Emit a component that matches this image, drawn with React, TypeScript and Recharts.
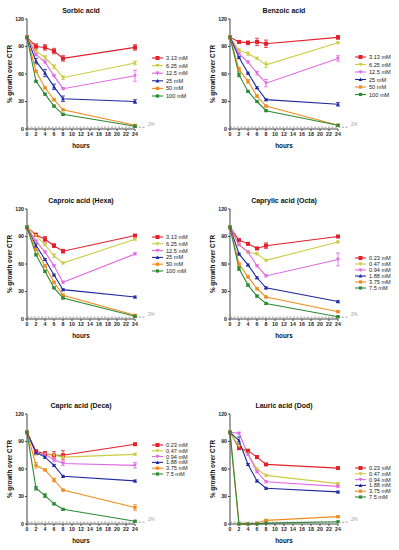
import { LineChart, Line, XAxis, YAxis, ErrorBar, ReferenceLine } from "recharts"

const hours = [0, 2, 4, 6, 8, 24]
const hourTicks = [0, 2, 4, 6, 8, 10, 12, 14, 16, 18, 20, 22, 24]
const pctTicks = [0, 30, 60, 90, 120]

const weakConc = ["3.13 mM", "6.25 mM", "12.5 mM", "25 mM", "50 mM", "100 mM"]
const fattyConc = ["0.23 mM", "0.47 mM", "0.94 mM", "1.88 mM", "3.75 mM", "7.5 mM"]

const sorbic = [
  [100, 90, 89, 85, 77, 89],
  [100, 85, 78, 68, 56, 72],
  [100, 81, 73, 58, 44, 58],
  [100, 74, 61, 46, 33, 30],
  [100, 63, 45, 32, 21, 4],
  [100, 52, 38, 25, 16, 3],
]
const sorbicErr = [
  [0, 3, 3, 3, 3, 3],
  [0, 1, 2, 2, 2, 2],
  [0, 1, 1, 1, 1, 6],
  [0, 3, 4, 3, 3, 2],
  [0, 1, 1, 1, 1, 1],
  [0, 1, 1, 1, 1, 1],
]

const benzoic = [
  [100, 95, 94, 95, 93, 100],
  [100, 86, 82, 77, 70, 94],
  [100, 82, 73, 61, 50, 77],
  [100, 78, 61, 45, 32, 27],
  [100, 65, 52, 36, 25, 4],
  [100, 59, 41, 30, 20, 4],
]
const benzoicErr = [
  [0, 1, 2, 4, 4, 2],
  [0, 1, 2, 1, 3, 1],
  [0, 1, 1, 2, 4, 3],
  [0, 1, 1, 1, 1, 2],
  [0, 2, 2, 1, 1, 1],
  [0, 2, 1, 1, 1, 1],
]

const caproic = [
  [100, 92, 87, 80, 74, 91],
  [100, 91, 81, 69, 61, 87],
  [100, 85, 73, 58, 40, 71],
  [100, 80, 65, 48, 32, 24],
  [100, 76, 58, 40, 26, 4],
  [100, 70, 52, 34, 23, 3],
]
const caproicErr = [
  [0, 1, 3, 2, 2, 1],
  [0, 1, 1, 2, 1, 1],
  [0, 1, 1, 1, 1, 1],
  [0, 2, 1, 1, 1, 1],
  [0, 1, 1, 1, 1, 1],
  [0, 1, 1, 1, 1, 1],
]

const caprylic = [
  [100, 86, 82, 77, 80, 90],
  [100, 81, 73, 71, 64, 84],
  [100, 81, 73, 58, 47, 65],
  [100, 71, 59, 45, 34, 19],
  [100, 60, 46, 33, 24, 8],
  [100, 55, 37, 25, 17, 2.5],
]
const caprylicErr = [
  [0, 1, 1, 1, 3, 1],
  [0, 1, 1, 1, 1, 1],
  [0, 1, 1, 1, 1, 7],
  [0, 1, 1, 1, 1, 1],
  [0, 1, 1, 1, 1, 1],
  [0, 2, 1, 1, 1, 1],
]

const capric = [
  [100, 79, 77, 75, 75, 87],
  [100, 76, 76, 75, 73, 76],
  [100, 77, 76, 70, 66, 64],
  [100, 78, 73, 64, 52, 47],
  [100, 64, 59, 48, 37, 18],
  [100, 39, 31, 22, 16, 3],
]
const capricErr = [
  [0, 2, 2, 4, 5, 1],
  [0, 1, 1, 1, 1, 1],
  [0, 1, 1, 2, 2, 3],
  [0, 2, 1, 1, 1, 1],
  [0, 3, 1, 2, 1, 3],
  [0, 2, 2, 1, 1, 1],
]

const lauric = [
  [100, 83, 80, 73, 65, 61],
  [100, 85, 76, 60, 53, 44],
  [100, 99, 76, 57, 46, 41],
  [100, 91, 65, 47, 39, 35],
  [100, 0, 0, 1, 4, 8],
  [100, 0, 0, 0, 1, 2.5],
]
const lauricErr = [
  [0, 2, 1, 1, 1, 1],
  [0, 1, 1, 1, 1, 1],
  [0, 1, 1, 1, 1, 1],
  [0, 4, 1, 1, 1, 1],
  [0, 0, 0, 0, 1, 1],
  [0, 0, 0, 0, 0, 0],
]

const colors = ["#e4202a", "#cccc44", "#e06ae0", "#1f2a9e", "#f08c1e", "#2e8b35"]
const shapes = ["square", "triDown", "triDown", "triUp", "square", "square"]
const font = "'Liberation Sans', Arial, sans-serif"

function Marker({ shape, cx, cy, color, s = 1.7 }: any) {
  if (cx == null || cy == null) return null
  if (shape === "triUp")
    return <polygon points={`${cx},${cy - s - 0.4} ${cx - s - 0.3},${cy + s} ${cx + s + 0.3},${cy + s}`} fill={color} />
  if (shape === "triDown")
    return <polygon points={`${cx},${cy + s + 0.4} ${cx - s - 0.3},${cy - s} ${cx + s + 0.3},${cy - s}`} fill={color} />
  return <rect x={cx - s} y={cy - s} width={s * 2} height={s * 2} fill={color} />
}

function Legend({ labels, top, gap }: any) {
  return (
    <svg width={50} height={60} style={{ position: "absolute", left: 151, top: top - 4 }}>
      {labels.map((l: string, i: number) => {
        const y = 4 + i * gap
        return (
          <g key={l}>
            <line x1={1} x2={12} y1={y} y2={y} stroke={colors[i]} strokeWidth={1.1} />
            <Marker shape={shapes[i]} cx={6.5} cy={y} color={colors[i]} s={i === 0 ? 2 : 1.6} />
            <text x={15} y={y} dominantBaseline="central" fontSize={5.6} fontFamily={font} fill="#222">
              {l}
            </text>
          </g>
        )
      })}
    </svg>
  )
}

function Panel({ title, series, errors, labels, left, top, legendTop, legendGap }: any) {
  const rows = hours.map((h, j) => {
    const r: any = { h }
    series.forEach((s: number[], i: number) => {
      r["s" + i] = s[j]
      r["e" + i] = errors[i][j]
    })
    return r
  })
  return (
    <div style={{ position: "absolute", left, top, width: 200, height: 160 }}>
      <div
        style={{
          position: "absolute", left: 27, width: 108, top: 6, textAlign: "center",
          fontFamily: font, fontWeight: "bold", fontSize: 7, lineHeight: "9px", color: "#111",
        }}
      >
        {title}
      </div>
      <LineChart width={200} height={151} data={rows} margin={{ top: 19, right: 65, left: 0, bottom: 0 }}>
        <XAxis
          type="number" dataKey="h" domain={[0, 24]} ticks={hourTicks} interval={0}
          tickSize={2} height={22} stroke="#444" tickMargin={1}
          tick={{ fontSize: 5.2, fontWeight: "bold", fontFamily: font, fill: "#222" }}
          label={{ value: "hours", position: "insideBottom", offset: 3, fontSize: 6.3, fontWeight: "bold", fontFamily: font, fill: "#111" }}
        />
        <YAxis
          type="number" domain={[0, 120]} ticks={pctTicks} interval={0} width={27}
          tickSize={2} stroke="#444" tickMargin={1}
          tick={{ fontSize: 5.2, fontWeight: "bold", fontFamily: font, fill: "#222" }}
          label={{ value: "% growth over CTR", angle: -90, position: "center", dx: -4, fontSize: 6.3, fontWeight: "bold", fontFamily: font, fill: "#111" }}
        />
        <ReferenceLine
          y={2}
          shape={(p: any) => (
            <g>
              <line x1={p.x1} y1={p.y1} x2={p.x2 + 11} y2={p.y2} stroke="#888" strokeWidth={0.8} strokeDasharray="2 1.5" />
              <text x={p.x2 + 13} y={p.y1 - 1.5} fontSize={4.5} fontFamily={font} fill="#999">2%</text>
            </g>
          )}
        />
        {series.map((_: number[], i: number) => (
          <Line
            key={i}
            type="linear"
            dataKey={"s" + i}
            stroke={colors[i]}
            strokeWidth={1.1}
            isAnimationActive={false}
            dot={(p: any) => (
              <Marker key={`m${i}-${p.index}`} shape={shapes[i]} cx={p.cx} cy={p.cy} color={colors[i]} s={i === 0 ? 2 : 1.6} />
            )}
            activeDot={false}
          >
            <ErrorBar dataKey={"e" + i} width={2} stroke={colors[i]} strokeWidth={0.8} direction="y" />
          </Line>
        ))}
      </LineChart>
      <Legend labels={labels} top={legendTop} gap={legendGap} />
    </div>
  )
}

export default function App() {
  return (
    <div style={{ position: "absolute", left: 0, top: 0, width: 399, height: 550, background: "#fff" }}>
      <Panel title="Sorbic acid" series={sorbic} errors={sorbicErr} labels={weakConc} left={0} top={0} legendTop={58} legendGap={7.6} />
      <Panel title="Benzoic acid" series={benzoic} errors={benzoicErr} labels={weakConc} left={203} top={0} legendTop={57} legendGap={7.5} />
      <Panel title="Caproic acid (Hexa)" series={caproic} errors={caproicErr} labels={weakConc} left={0} top={190} legendTop={47} legendGap={6.8} />
      <Panel title="Caprylic acid (Octa)" series={caprylic} errors={caprylicErr} labels={fattyConc} left={203} top={190} legendTop={68} legendGap={6} />
      <Panel title="Capric acid (Deca)" series={capric} errors={capricErr} labels={fattyConc} left={0} top={395} legendTop={50} legendGap={5.8} />
      <Panel title="Lauric acid (Dod)" series={lauric} errors={lauricErr} labels={fattyConc} left={203} top={395} legendTop={73} legendGap={5.8} />
    </div>
  )
}
